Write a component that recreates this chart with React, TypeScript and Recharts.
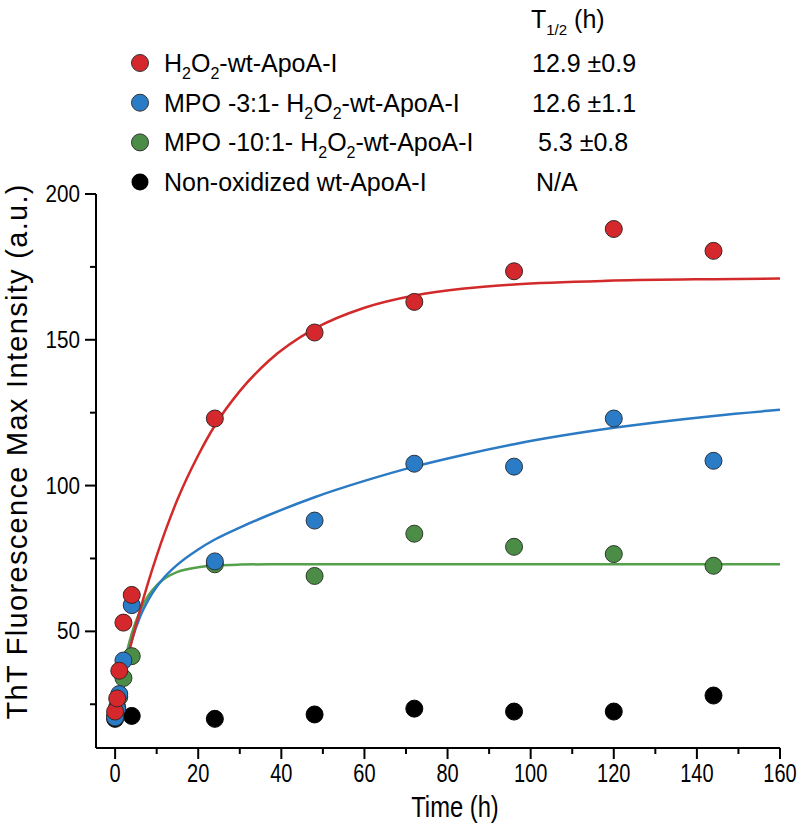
import React from 'react';
import { ComposedChart, Scatter, Line, XAxis, YAxis } from 'recharts';

// sampling times (h)
const times = [0, 0.5, 1, 2, 4, 24, 48, 72, 96, 120, 144];
const nonOxTimes = [0, 4, 24, 48, 72, 96, 120, 144];

// ThT max intensity
const h2o2Vals = [22.5, 27, 36.5, 53, 62.5, 123, 152.5, 163, 173.5, 188, 180.5];
const mpo3Vals = [20.5, 23.5, 28.5, 40, 59, 74, 88, 107.5, 106.5, 123, 108.5];
const mpo10Vals = [21, 24, 27.5, 34, 41.5, 73, 69, 83.5, 79, 76.5, 72.5];
const nonOxVals = [20, 21, 20, 21.5, 23.5, 22.5, 22.5, 28];

// fitted curves
const fitTimes = [0, 1, 2, 3, 4, 6, 8, 10, 12, 15, 20, 24, 30, 37, 48, 60, 72, 84, 96, 120, 144, 160];
const h2o2Fit = [21.5, 28.5, 34.8, 40.8, 46.6, 57.3, 67, 75.9, 84.1, 95.2, 110.4, 120.6, 132.4, 142.8, 153.8, 161, 165.2, 167.6, 169, 170.3, 170.8, 171];
const mpo3Fit = [20, 28.6, 35.8, 41.7, 46.8, 55, 60.8, 65.3, 68.8, 72.9, 78.1, 81.5, 85.6, 89.9, 96, 101.6, 106.5, 110.6, 114.2, 119.8, 123.9, 126];
const mpo10Fit = [20, 29.6, 37.5, 43.9, 49.2, 57, 62.3, 65.8, 68.2, 70.4, 72, 72.6, 72.9, 73, 73, 73, 73, 73, 73, 73, 73, 73];

const xTicks = [0, 10, 20, 30, 40, 50, 60, 70, 80, 90, 100, 110, 120, 130, 140, 150, 160];
const yTicks = [25, 50, 75, 100, 125, 150, 175, 200];

const legendRows = [
  { pre: '', label: '-wt-ApoA-I', t: '12.9 ±0.9', color: '#d4282d' },
  { pre: 'MPO -3:1- ', label: '-wt-ApoA-I', t: '12.6 ±1.1', color: '#2b7cc6' },
  { pre: 'MPO -10:1- ', label: '-wt-ApoA-I', t: '5.3 ±0.8', color: '#4b8c46' },
];

const SANS = '"Liberation Sans", Arial, sans-serif';

const pts = (xs: number[], ys: number[]) => xs.map((x, i) => ({ x, y: ys[i] }));

const XTick = ({ x, y, payload }: any) => {
  const major = payload.value % 20 === 0;
  return (
    <g>
      <line x1={x} x2={x} y1={y} y2={y + (major ? 11 : 6)} stroke="#000" strokeWidth={2} />
      {major && (
        <text transform={`translate(${x},${y + 34}) scale(0.8,1)`} textAnchor="middle"
          fontFamily={SANS} fontSize={25} fill="#000">
          {payload.value}
        </text>
      )}
    </g>
  );
};

const YTick = ({ x, y, payload }: any) => {
  const major = payload.value % 50 === 0;
  return (
    <g>
      <line x1={x} x2={x - (major ? 11 : 6)} y1={y} y2={y} stroke="#000" strokeWidth={2} />
      {major && (
        <text transform={`translate(${x - 16},${y + 8}) scale(0.86,1)`} textAnchor="end"
          fontFamily={SANS} fontSize={24} fill="#000">
          {payload.value}
        </text>
      )}
    </g>
  );
};

const dot = (fill: string, stroke: string) => (p: any) => (
  <circle cx={p.cx} cy={p.cy} r={8.5} fill={fill} stroke={stroke} strokeWidth={1} />
);

export default function App() {
  return (
    <div style={{ position: 'absolute', left: 0, top: 0, width: 800, height: 833, background: '#fff' }}>
      <ComposedChart width={800} height={833} margin={{ top: 194, right: 20, bottom: 55, left: 36 }}>
        <XAxis type="number" dataKey="x" domain={[-4.6, 160]} ticks={xTicks} allowDataOverflow
          height={30} tickSize={0} tickMargin={0} tickLine={false} tick={<XTick />}
          axisLine={{ stroke: '#000', strokeWidth: 2 }} />
        <YAxis type="number" dataKey="y" domain={[10, 200]} ticks={yTicks} allowDataOverflow
          width={60} tickSize={0} tickMargin={0} tickLine={false} tick={<YTick />}
          axisLine={{ stroke: '#000', strokeWidth: 2 }} />
        <Line data={pts(fitTimes, mpo10Fit)} dataKey="y" type="monotone" stroke="#55a04a" strokeWidth={2.5} dot={false} isAnimationActive={false} />
        <Line data={pts(fitTimes, mpo3Fit)} dataKey="y" type="monotone" stroke="#2b7ac4" strokeWidth={2.5} dot={false} isAnimationActive={false} />
        <Line data={pts(fitTimes, h2o2Fit)} dataKey="y" type="monotone" stroke="#d22a2b" strokeWidth={2.5} dot={false} isAnimationActive={false} />
        <Scatter data={pts(nonOxTimes, nonOxVals)} dataKey="y" shape={dot('#000', '#000')} isAnimationActive={false} />
        <Scatter data={pts(times, mpo10Vals)} dataKey="y" shape={dot('#4b8c46', '#2d3a2a')} isAnimationActive={false} />
        <Scatter data={pts(times, mpo3Vals)} dataKey="y" shape={dot('#2b7cc6', '#2a3340')} isAnimationActive={false} />
        <Scatter data={pts(times, h2o2Vals)} dataKey="y" shape={dot('#d4282d', '#3a2626')} isAnimationActive={false} />
      </ComposedChart>

      <svg width={800} height={833} style={{ position: 'absolute', left: 0, top: 0, pointerEvents: 'none' }}>
        <g fontFamily={SANS} fill="#000">
          <text x={531} y={28} fontSize={25}>
            T<tspan fontSize={15} dy={7}>1/2</tspan><tspan dy={-7}> (h)</tspan>
          </text>
          {legendRows.map((r, i) => {
            const cy = 63 + i * 39.7;
            return (
              <g key={i}>
                <circle cx={140} cy={cy} r={8.5} fill={r.color} stroke="#333" strokeWidth={1} />
                <text x={164} y={cy + 9} fontSize={25}>
                  {r.pre}H<tspan fontSize={16} dy={7}>2</tspan><tspan dy={-7}>O</tspan>
                  <tspan fontSize={16} dy={7}>2</tspan><tspan dy={-7}>{r.label}</tspan>
                </text>
                <text x={i === 2 ? 538 : 532} y={cy + 9} fontSize={25}>{r.t}</text>
              </g>
            );
          })}
          <circle cx={140} cy={182} r={8.5} fill="#000" />
          <text x={164} y={191} fontSize={25}>Non-oxidized wt-ApoA-I</text>
          <text x={536} y={191} fontSize={25}>N/A</text>

          <text transform="translate(455, 817) scale(0.82,1)" textAnchor="middle" fontSize={29}>Time (h)</text>
          <text transform="translate(27, 452) rotate(-90)" textAnchor="middle" fontSize={29}
            textLength={535}>
            ThT Fluorescence Max Intensity (a.u.)
          </text>
        </g>
      </svg>
    </div>
  );
}
